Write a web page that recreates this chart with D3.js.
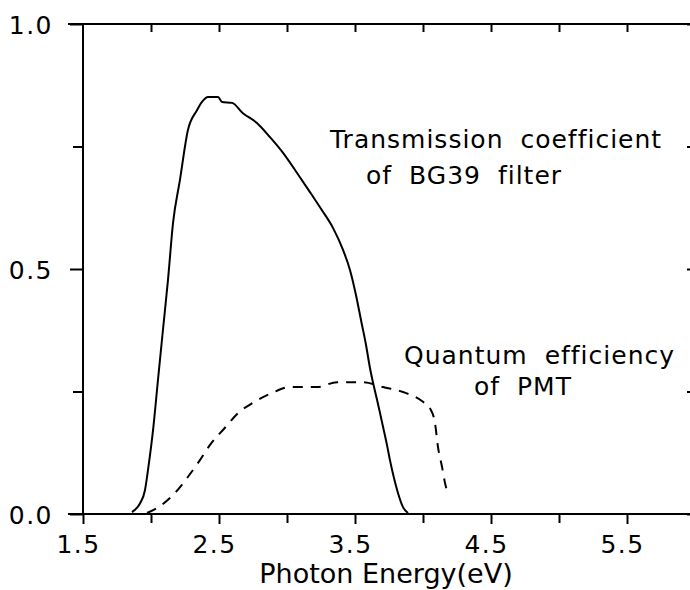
<!DOCTYPE html>
<html>
<head>
<meta charset="utf-8">
<script src="https://cdn.jsdelivr.net/npm/d3@7"></script>
<style>
  body { margin: 0; background: #fff; }
  svg { display: block; font-family: "DejaVu Sans", sans-serif; }
  .axis path { display: none; }
  .axis line { stroke: #000; stroke-width: 2px; }
  .axis text { font-size: 25px; fill: #000; font-family: "DejaVu Sans", sans-serif; letter-spacing: 1.5px; }
  .note { font-size: 25px; fill: #000; word-spacing: 8px; letter-spacing: 1px; }
</style>
</head>
<body>
<div id="chart"></div>
<script>
// transmission coefficient of BG39 filter
const transE   = [1.86, 1.88, 1.92, 1.956, 1.978, 2.015, 2.051, 2.088, 2.125, 2.162, 2.213, 2.272, 2.338, 2.375, 2.419, 2.493, 2.522, 2.596, 2.676, 2.779, 2.875, 2.971, 3.074, 3.169, 3.257, 3.338, 3.412, 3.463, 3.507, 3.544, 3.581, 3.61, 3.64, 3.662, 3.684, 3.706, 3.735, 3.757, 3.787, 3.816, 3.853, 3.89];
const transVal = [0.004, 0.008, 0.022, 0.049, 0.09, 0.171, 0.273, 0.376, 0.478, 0.594, 0.682, 0.784, 0.824, 0.841, 0.851, 0.851, 0.841, 0.839, 0.818, 0.798, 0.769, 0.737, 0.696, 0.657, 0.62, 0.584, 0.539, 0.498, 0.447, 0.396, 0.345, 0.298, 0.259, 0.233, 0.206, 0.178, 0.141, 0.11, 0.073, 0.043, 0.014, 0.002];

// quantum efficiency of PMT
const qeE   = [1.971, 2.066, 2.176, 2.272, 2.36, 2.434, 2.544, 2.64, 2.75, 2.89, 3.022, 3.221, 3.368, 3.559, 3.706, 3.853, 4.0, 4.051, 4.088, 4.11, 4.14, 4.162, 4.184];
const qeVal = [0.002, 0.016, 0.043, 0.076, 0.11, 0.141, 0.176, 0.206, 0.227, 0.247, 0.259, 0.259, 0.269, 0.269, 0.259, 0.249, 0.229, 0.216, 0.186, 0.137, 0.096, 0.063, 0.041];

const xMajor = [1.5, 2.5, 3.5, 4.5, 5.5];
const xMinor = [2.0, 3.0, 4.0, 5.0];
const xTop   = [2.0, 2.5, 3.0, 3.5, 4.0, 4.5, 5.0, 5.5];
const yMajor = [0, 0.5, 1.0];
const yMinor = [0.25, 0.75];
const yAll   = [0, 0.25, 0.5, 0.75, 1.0];

const width = 690;
const height = 590;

const margin = { top: 24, left: 83, right: -5, bottom: 76 };

const svg = d3.select("#chart")
    .append("svg")
    .attr("width", width)
    .attr("height", height);

const xScale = d3.scaleLinear()
    .domain([1.5, 6.0])
    .range([margin.left, width - margin.right]);

const yScale = d3.scaleLinear()
    .domain([0, 1])
    .range([height - margin.bottom, margin.top]);

const y0 = yScale(0), y1 = yScale(1);

// bottom axis
const xAxis = svg.append("g")
    .attr("class", "axis")
    .attr("transform", `translate(0,${y0})`)
    .call(d3.axisBottom(xScale).tickValues(xMajor).tickSize(10).tickFormat(d3.format(".1f")));
xAxis.selectAll("text").attr("y", 39).attr("dy", 0).attr("dx", -5);

svg.append("g")
    .attr("class", "axis")
    .attr("transform", `translate(0,${y0})`)
    .call(d3.axisBottom(xScale).tickValues(xMinor).tickSize(9).tickFormat(""));

// top axis, ticks pointing down
svg.append("g")
    .attr("class", "axis")
    .attr("transform", `translate(0,${y1})`)
    .call(d3.axisTop(xScale).tickValues(xTop).tickSize(-8).tickFormat(""));

// left axis
const yAxis = svg.append("g")
    .attr("class", "axis")
    .attr("transform", `translate(${margin.left},0)`)
    .call(d3.axisLeft(yScale).tickValues(yMajor).tickSize(13).tickFormat(d3.format(".1f")));
yAxis.selectAll("text").attr("x", -30).attr("dy", "0.36em");

svg.append("g")
    .attr("class", "axis")
    .attr("transform", `translate(${margin.left},0)`)
    .call(d3.axisLeft(yScale).tickValues(yMinor).tickSize(10).tickFormat(""));

// right axis (sits just outside the picture)
svg.append("g")
    .attr("class", "axis")
    .attr("transform", `translate(${width - margin.right},0)`)
    .call(d3.axisRight(yScale).tickValues(yAll).tickSize(-8).tickFormat(""));

// frame lines
svg.append("line")
    .attr("x1", margin.left - 15).attr("x2", width)
    .attr("y1", y0).attr("y2", y0)
    .attr("stroke", "#000").attr("stroke-width", 2);
svg.append("line")
    .attr("x1", margin.left - 15).attr("x2", width)
    .attr("y1", y1).attr("y2", y1)
    .attr("stroke", "#000").attr("stroke-width", 2);
svg.append("line")
    .attr("x1", margin.left).attr("x2", margin.left)
    .attr("y1", y1).attr("y2", y0)
    .attr("stroke", "#000").attr("stroke-width", 2);

const line = d3.line()
    .x(function(d) { return xScale(d[0]); })
    .y(function(d) { return yScale(d[1]); })
    .curve(d3.curveMonotoneX);

svg.append("path")
    .datum(d3.zip(transE, transVal))
    .attr("d", line)
    .attr("fill", "none")
    .attr("stroke", "#000")
    .attr("stroke-width", 2)
    .attr("stroke-linejoin", "round");

svg.append("path")
    .datum(d3.zip(qeE, qeVal))
    .attr("d", line)
    .attr("fill", "none")
    .attr("stroke", "#000")
    .attr("stroke-width", 2)
    .attr("stroke-dasharray", "10,8");

// annotations
svg.append("text").attr("class", "note").attr("x", 330).attr("y", 148).text("Transmission coefficient");
svg.append("text").attr("class", "note").attr("x", 366).attr("y", 184).text("of BG39 filter");
svg.append("text").attr("class", "note").attr("x", 404).attr("y", 364).text("Quantum efficiency");
svg.append("text").attr("class", "note").attr("x", 474).attr("y", 395).text("of PMT");

// axis title
svg.append("text")
    .attr("x", 386)
    .attr("y", 583)
    .attr("text-anchor", "middle")
    .style("font-size", "27px")
    .text("Photon Energy(eV)");
</script>
</body>
</html>
